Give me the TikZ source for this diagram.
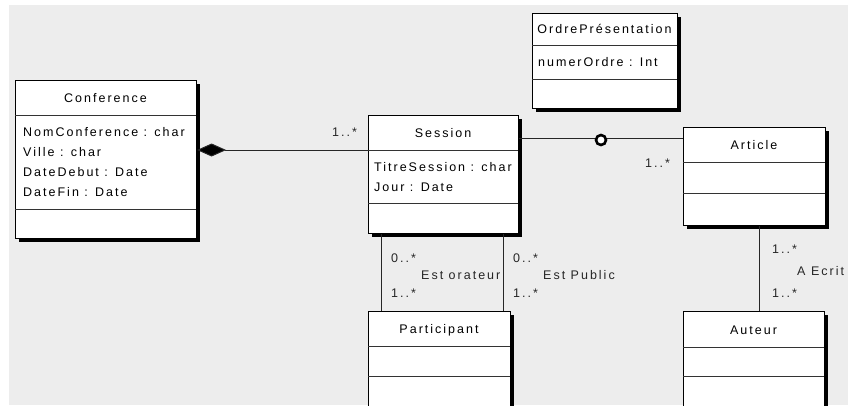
\documentclass[tikz,border=0pt]{standalone}
\usepackage{fontspec}
\setmainfont{Liberation Sans}[LetterSpace=16]
\usetikzlibrary{shadows,arrows.meta}
\begin{document}
\begin{tikzpicture}[x=1pt,y=-1pt,
  every node/.style={font=\fontsize{12.5}{15}\selectfont, inner sep=0pt},
  classbox/.style={draw, line width=1.1pt, fill=white, anchor=north west,
    drop shadow={shadow xshift=3pt, shadow yshift=-3pt, fill=black, opacity=1}},
  divider/.style={line width=0.8pt, black!80},
  clstitle/.style={anchor=base},
  attr/.style={anchor=base west},
  mult/.style={anchor=base west, text=black!85},
  assoc/.style={line width=1pt, black!85}]
\useasboundingbox (0,0) rectangle (852,405);
\clip (0,0) rectangle (852,405);
\fill[black!7] (9,5) rectangle (848,405);
\node[classbox, minimum width=181pt, minimum height=158pt] (conference) at (15,80) {};
\draw[divider] (15,115) -- (196,115);
\draw[divider] (15,209) -- (196,209);
\node[clstitle] (conftitle) at (105.5,102.5) {Conference};
\node[attr] (confnom) at (23,136.5) {NomConference : char};
\node[attr] (confville) at (23,156.5) {Ville : char};
\node[attr] (confdebut) at (23,176.5) {DateDebut : Date};
\node[attr] (conffin) at (23,196.5) {DateFin : Date};
\node[classbox, minimum width=150pt, minimum height=118pt] (session) at (368,115) {};
\draw[divider] (368,150) -- (518,150);
\draw[divider] (368,203) -- (518,203);
\node[clstitle] (sestitle) at (443,137) {Session};
\node[attr] (sestitre) at (374,171.5) {TitreSession : char};
\node[attr] (sesjour) at (374,191.5) {Jour : Date};
\node[classbox, minimum width=145pt, minimum height=95pt] (ordre) at (532,13) {};
\draw[divider] (532,45) -- (677,45);
\draw[divider] (532,79) -- (677,79);
\node[clstitle] (ordretitle) at (604.5,33.5) {OrdrePrésentation};
\node[attr] (ordrenum) at (538,66.5) {numerOrdre : Int};
\node[classbox, minimum width=142pt, minimum height=98pt] (article) at (683,127) {};
\draw[divider] (683,162) -- (825,162);
\draw[divider] (683,193) -- (825,193);
\node[clstitle] (arttitle) at (754,149) {Article};
\node[classbox, minimum width=142pt, minimum height=96pt] (participant) at (368,311) {};
\draw[divider] (368,346) -- (510,346);
\draw[divider] (368,376) -- (510,376);
\node[clstitle] (parttitle) at (439,333) {Participant};
\node[classbox, minimum width=141pt, minimum height=96pt] (auteur) at (683,311) {};
\draw[divider] (683,347) -- (824,347);
\draw[divider] (683,376) -- (824,376);
\node[clstitle] (auttitle) at (753.5,334) {Auteur};
\coordinate (sesjoint) at (368,150);
\coordinate (artjoint) at (683,138);
\coordinate (orateur) at (381,270);
\coordinate (public) at (503,270);
\coordinate (ecrit) at (759,270);
\draw[assoc, {Diamond[length=29pt,width=13pt,fill=black]}-] (conference.east |- sesjoint) -- (sesjoint);
\draw[assoc] (session.east |- artjoint) -- (artjoint);
\node[circle, draw, line width=2.6pt, fill=white, minimum size=10pt] (ordrelink) at (601,140) {};
\draw[assoc] (session.south -| orateur) -- (participant.north -| orateur);
\draw[assoc] (session.south -| public) -- (participant.north -| public);
\draw[assoc] (article.south -| ecrit) -- (auteur.north -| ecrit);
\node[mult] (confmult) at (332,136.5) {1..*};
\node[mult] (artmult) at (645,167.5) {1..*};
\node[mult] (orasesmult) at (391,262.5) {0..*};
\node[mult] (oralabel) at (421,279.5) {Est orateur};
\node[mult] (orapartmult) at (391,297.5) {1..*};
\node[mult] (pubsesmult) at (513,262.5) {0..*};
\node[mult] (publabel) at (543,279.5) {Est Public};
\node[mult] (pubpartmult) at (513,297.5) {1..*};
\node[mult] (ecritartmult) at (772,253.5) {1..*};
\node[mult] (ecritlabel) at (797,275.5) {A Ecrit};
\node[mult] (ecritautmult) at (772,297.5) {1..*};
\end{tikzpicture}
\end{document}
